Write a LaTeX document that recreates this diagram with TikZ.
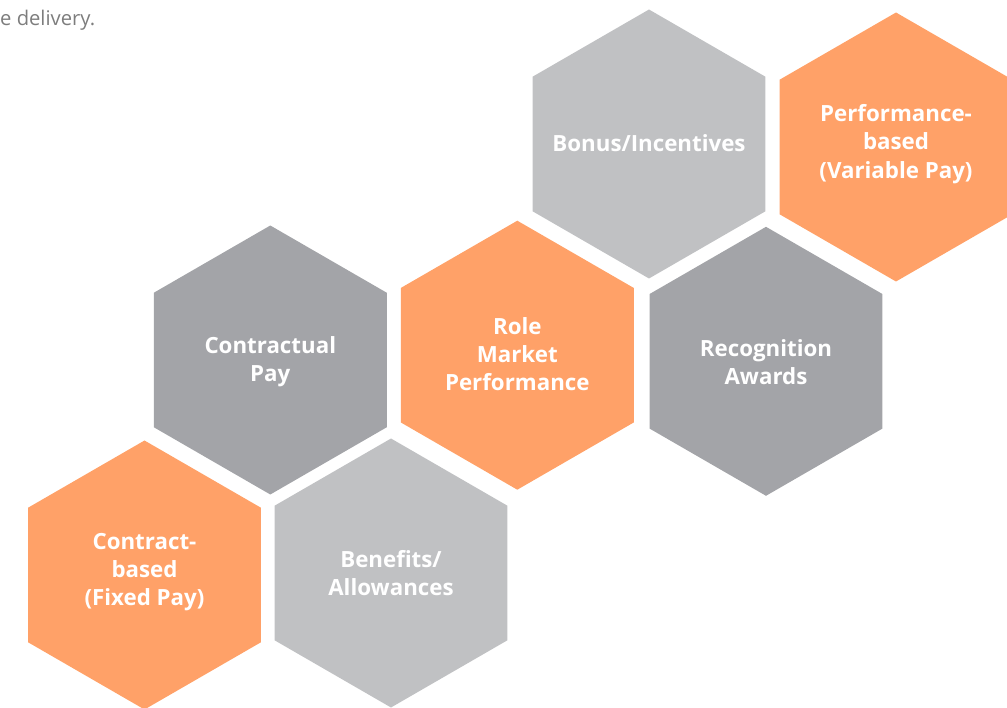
\documentclass[tikz,border=0pt]{standalone}
\usepackage{fontspec}
\setmainfont{Open Sans}
\definecolor{hexorange}{RGB}{255,161,104}
\definecolor{hexlight}{RGB}{192,193,195}
\definecolor{hexdark}{RGB}{163,164,168}
\definecolor{introgray}{RGB}{125,125,125}
\newcommand{\hexcell}[6]{%
  \fill[#3] (#1,#2) +(90:134.5) -- +(150:134.5) -- +(210:134.5) -- +(270:134.5) -- +(330:134.5) -- +(30:134.5) -- cycle;
  \node[hextext,yshift=#6] (#4) at (#1,#2) {#5};%
}
\begin{document}
\begin{tikzpicture}[x=1pt,y=-1pt,
  hextext/.style={text=white,font=\bfseries\fontsize{22.3}{28.3}\selectfont,align=center,inner sep=0pt},
  introtext/.style={text=introgray,font=\fontsize{20.2}{24}\selectfont,anchor=base west,inner sep=0pt}]
\useasboundingbox (0,0) rectangle (1007,708);
\clip (0,0) rectangle (1007,708);
\node[introtext] (intro) at (0,25.5) {e delivery.};
\hexcell{649}{144}{hexlight}{bonus}{Bonus/Incentives}{1pt}
\hexcell{896}{147}{hexorange}{perf}{Performance-\\based\\(Variable Pay)}{3pt}
\hexcell{270.3}{360}{hexdark}{contractual}{Contractual\\Pay}{-2pt}
\hexcell{517.3}{355.2}{hexorange}{role}{Role\\Market\\Performance}{1pt}
\hexcell{766}{361.3}{hexdark}{recog}{Recognition\\Awards}{-1pt}
\hexcell{144.5}{575}{hexorange}{contract}{Contract-\\based\\(Fixed Pay)}{3pt}
\hexcell{391}{573}{hexlight}{benefits}{Benefits/\\Allowances}{0pt}
\end{tikzpicture}
\end{document}
